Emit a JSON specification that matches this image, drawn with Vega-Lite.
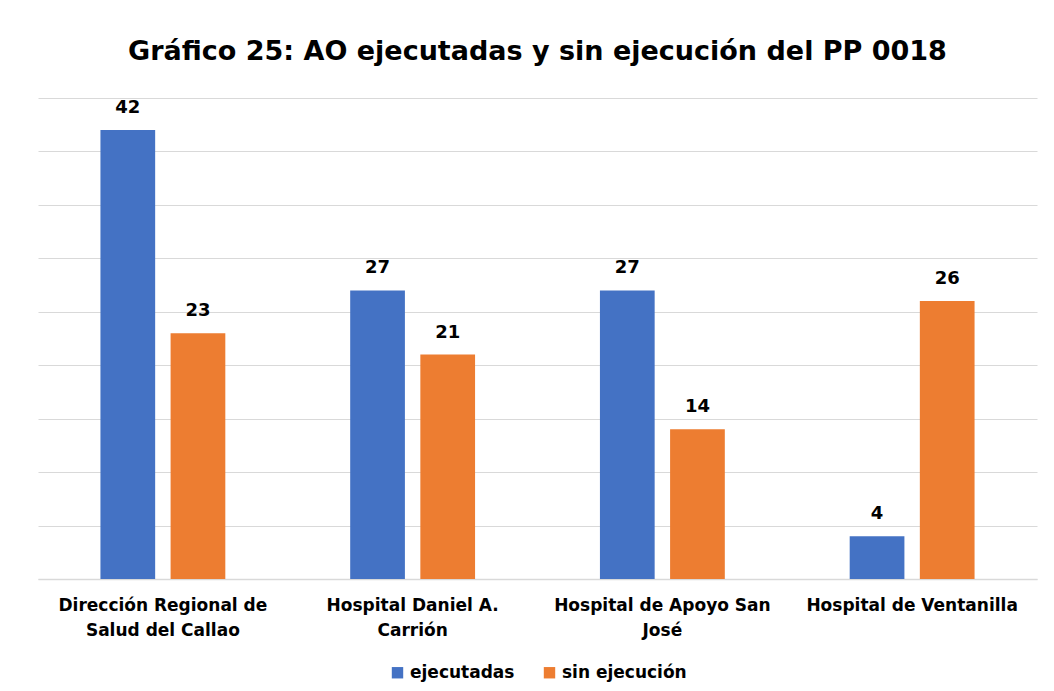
{
  "$schema": "https://vega.github.io/schema/vega-lite/v6.json",
  "width": 999,
  "height": 481,
  "padding": {"left": 38, "top": 38, "right": 17, "bottom": 5},
  "background": "white",
  "title": {
    "text": "Gráfico 25: AO ejecutadas y sin ejecución del PP 0018",
    "font": "DejaVu Sans",
    "fontSize": 27,
    "fontWeight": "bold",
    "color": "#000000",
    "anchor": "middle",
    "offset": 32
  },
  "data": {
    "values": [
      {"entidad": "Dirección Regional de Salud del Callao", "tipo": "ejecutadas", "valor": 42},
      {"entidad": "Dirección Regional de Salud del Callao", "tipo": "sin ejecución", "valor": 23},
      {"entidad": "Hospital Daniel A. Carrión", "tipo": "ejecutadas", "valor": 27},
      {"entidad": "Hospital Daniel A. Carrión", "tipo": "sin ejecución", "valor": 21},
      {"entidad": "Hospital de Apoyo San José", "tipo": "ejecutadas", "valor": 27},
      {"entidad": "Hospital de Apoyo San José", "tipo": "sin ejecución", "valor": 14},
      {"entidad": "Hospital de Ventanilla", "tipo": "ejecutadas", "valor": 4},
      {"entidad": "Hospital de Ventanilla", "tipo": "sin ejecución", "valor": 26}
    ]
  },
  "encoding": {
    "x": {
      "field": "entidad",
      "type": "nominal",
      "sort": null,
      "scale": {"paddingInner": 0.5, "paddingOuter": 0.25},
      "axis": {
        "title": null,
        "labelAngle": 0,
        "labelFont": "DejaVu Sans",
        "labelFontSize": 17,
        "labelFontWeight": "bold",
        "labelColor": "#000000",
        "labelPadding": 18,
        "labelLineHeight": 25,
        "labelLimit": 300,
        "ticks": false,
        "domainColor": "#d9d9d9",
        "domainWidth": 1.5,
        "labelExpr": "datum.value == 'Dirección Regional de Salud del Callao' ? ['Dirección Regional de', 'Salud del Callao'] : datum.value == 'Hospital Daniel A. Carrión' ? ['Hospital Daniel A.', 'Carrión'] : datum.value == 'Hospital de Apoyo San José' ? ['Hospital de Apoyo San', 'José'] : datum.value"
      }
    },
    "xOffset": {
      "field": "tipo",
      "type": "nominal",
      "scale": {"paddingInner": 0.22, "paddingOuter": 0}
    },
    "y": {
      "field": "valor",
      "type": "quantitative",
      "scale": {"domain": [0, 45], "nice": false},
      "axis": {
        "title": null,
        "labels": false,
        "ticks": false,
        "domain": false,
        "grid": true,
        "gridColor": "#d9d9d9",
        "gridWidth": 1.2,
        "values": [0, 5, 10, 15, 20, 25, 30, 35, 40, 45]
      }
    }
  },
  "layer": [
    {
      "mark": {"type": "bar"},
      "encoding": {
        "color": {
          "field": "tipo",
          "type": "nominal",
          "scale": {"domain": ["ejecutadas", "sin ejecución"], "range": ["#4472C4", "#ED7D31"]},
          "legend": {
            "title": null,
            "orient": "bottom",
            "direction": "horizontal",
            "symbolType": "square",
            "symbolSize": 130,
            "symbolStrokeWidth": 0,
            "labelFont": "DejaVu Sans",
            "labelFontSize": 17,
            "labelFontWeight": "bold",
            "labelColor": "#000000",
            "columnPadding": 26,
            "offset": 26
          }
        }
      }
    },
    {
      "mark": {"type": "text", "baseline": "bottom", "dy": -13, "font": "DejaVu Sans", "fontSize": 18, "fontWeight": "bold", "color": "#000000"},
      "encoding": {
        "text": {"field": "valor", "type": "quantitative"}
      }
    }
  ],
  "config": {
    "view": {"stroke": null},
    "legend": {"layout": {"bottom": {"anchor": "middle"}}}
  }
}
